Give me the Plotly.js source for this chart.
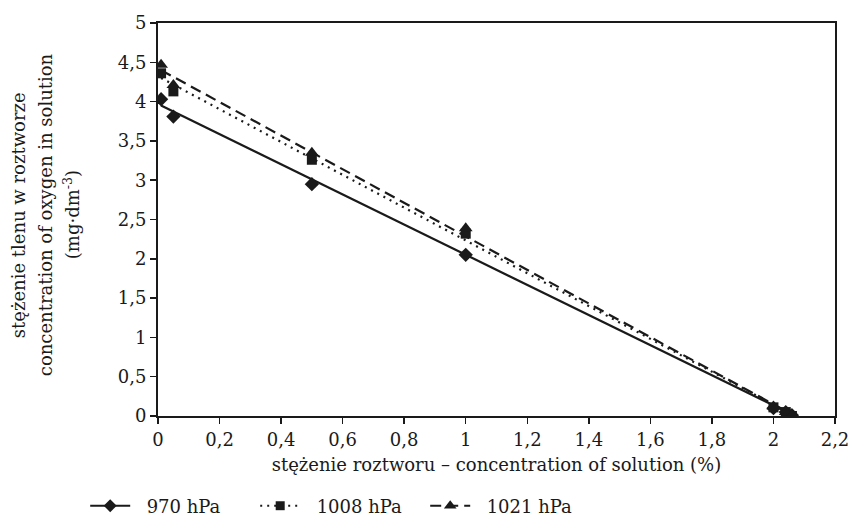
<!DOCTYPE html>
<html>
<head>
<meta charset="utf-8">
<script src="https://cdn.plot.ly/plotly-3.0.1.min.js"></script>
<style>html,body{margin:0;padding:0;background:#fff;}#chart{width:852px;height:520px;}</style>
</head>
<body>
<div id="chart"></div>
<script>
// Data
const seriesNames = ['970 hPa', '1008 hPa', '1021 hPa'];
const conc = [0.01, 0.05, 0.5, 1.0, 2.0, 2.04, 2.06];
const oxy970 = [4.03, 3.81, 2.95, 2.05, 0.10, 0.05, 0.01];
const oxy1008 = [4.36, 4.13, 3.26, 2.32, 0.11, 0.05, 0.00];
const oxy1021 = [4.47, 4.21, 3.35, 2.39, 0.12, 0.05, 0.01];
// Trendline end points
const trendX = [0.01, 2.07];
const trend970 = [3.95, 0.0];
const trend1008 = [4.30, 0.0];
const trend1021 = [4.40, 0.0];
const xTicks = [0, 0.2, 0.4, 0.6, 0.8, 1.0, 1.2, 1.4, 1.6, 1.8, 2.0, 2.2];
const yTicks = [0, 0.5, 1, 1.5, 2, 2.5, 3, 3.5, 4, 4.5, 5];

const ink = '#1a1a1a';
const FONT = 'DejaVu Serif, serif';
const FS = 18;
const styles = [
  {dash: 'solid', symbol: 'diamond', size: 11},
  {dash: '2px,5px', symbol: 'square', size: 10},
  {dash: '11px,6px', symbol: 'triangle-up', size: 12}
];
const pts = [oxy970, oxy1008, oxy1021];
const trends = [trend970, trend1008, trend1021];

const traces = [];
for (let i = 0; i < 3; i++) {
  traces.push({x: trendX, y: trends[i], mode: 'lines', showlegend: false, hoverinfo: 'skip',
    line: {color: ink, width: 2.2, dash: styles[i].dash}});
}
for (let i = 0; i < 3; i++) {
  traces.push({x: conc, y: pts[i], mode: 'markers', showlegend: false,
    marker: {color: ink, symbol: styles[i].symbol, size: styles[i].size}});
}
for (let i = 0; i < 3; i++) {
  traces.push({x: [null], y: [null], mode: 'lines+markers', name: '\u00a0\u00a0' + seriesNames[i],
    line: {color: ink, width: 2, dash: styles[i].dash},
    marker: {color: ink, symbol: styles[i].symbol, size: styles[i].size - 1}});
}

const yTitleLines = ['stężenie tlenu w roztworze', 'concentration of oxygen in solution', '(mg·dm<sup>-3</sup>)'];
const yTitleX = [18, 45, 72];
const annotations = yTitleLines.map((t, i) => ({
  text: t, xref: 'paper', yref: 'paper', x: (yTitleX[i] - 158) / 677, y: 0.511,
  xanchor: 'center', yanchor: 'middle', textangle: -90, showarrow: false,
  font: {family: FONT, size: FS, color: ink}
}));

const layout = {
  width: 852, height: 520,
  margin: {l: 158, r: 17, t: 23, b: 104, autoexpand: false},
  paper_bgcolor: '#fff', plot_bgcolor: '#fff',
  separators: ', ',
  font: {family: FONT, size: FS, color: ink},
  showlegend: true,
  legend: {orientation: 'h', xref: 'container', yref: 'container', x: 0.1, xanchor: 'left',
    y: (520 - 506) / 520, yanchor: 'middle',
    font: {family: FONT, size: FS, color: ink}, entrywidth: 115, entrywidthmode: 'pixels',
    itemwidth: 40},
  xaxis: {range: [0, 2.2], tickvals: xTicks, ticks: 'outside', ticklen: 6, tickwidth: 1.5,
    tickcolor: ink, showline: true, linecolor: ink, linewidth: 2, mirror: true,
    showgrid: false, zeroline: false, tickformat: '.1~f', automargin: false,
    tickfont: {family: FONT, size: FS, color: ink},
    title: {text: 'stężenie roztworu – concentration of solution (%)', standoff: 10,
      font: {family: FONT, size: FS, color: ink}}},
  yaxis: {range: [0, 5], tickvals: yTicks, ticks: 'outside', ticklen: 6, tickwidth: 1.5,
    tickcolor: ink, showline: true, linecolor: ink, linewidth: 2, mirror: true,
    showgrid: false, zeroline: false, tickformat: '~g', automargin: false,
    tickfont: {family: FONT, size: FS, color: ink}},
  annotations: annotations
};

Plotly.newPlot('chart', traces, layout, {displayModeBar: false, staticPlot: true});
</script>
</body>
</html>
